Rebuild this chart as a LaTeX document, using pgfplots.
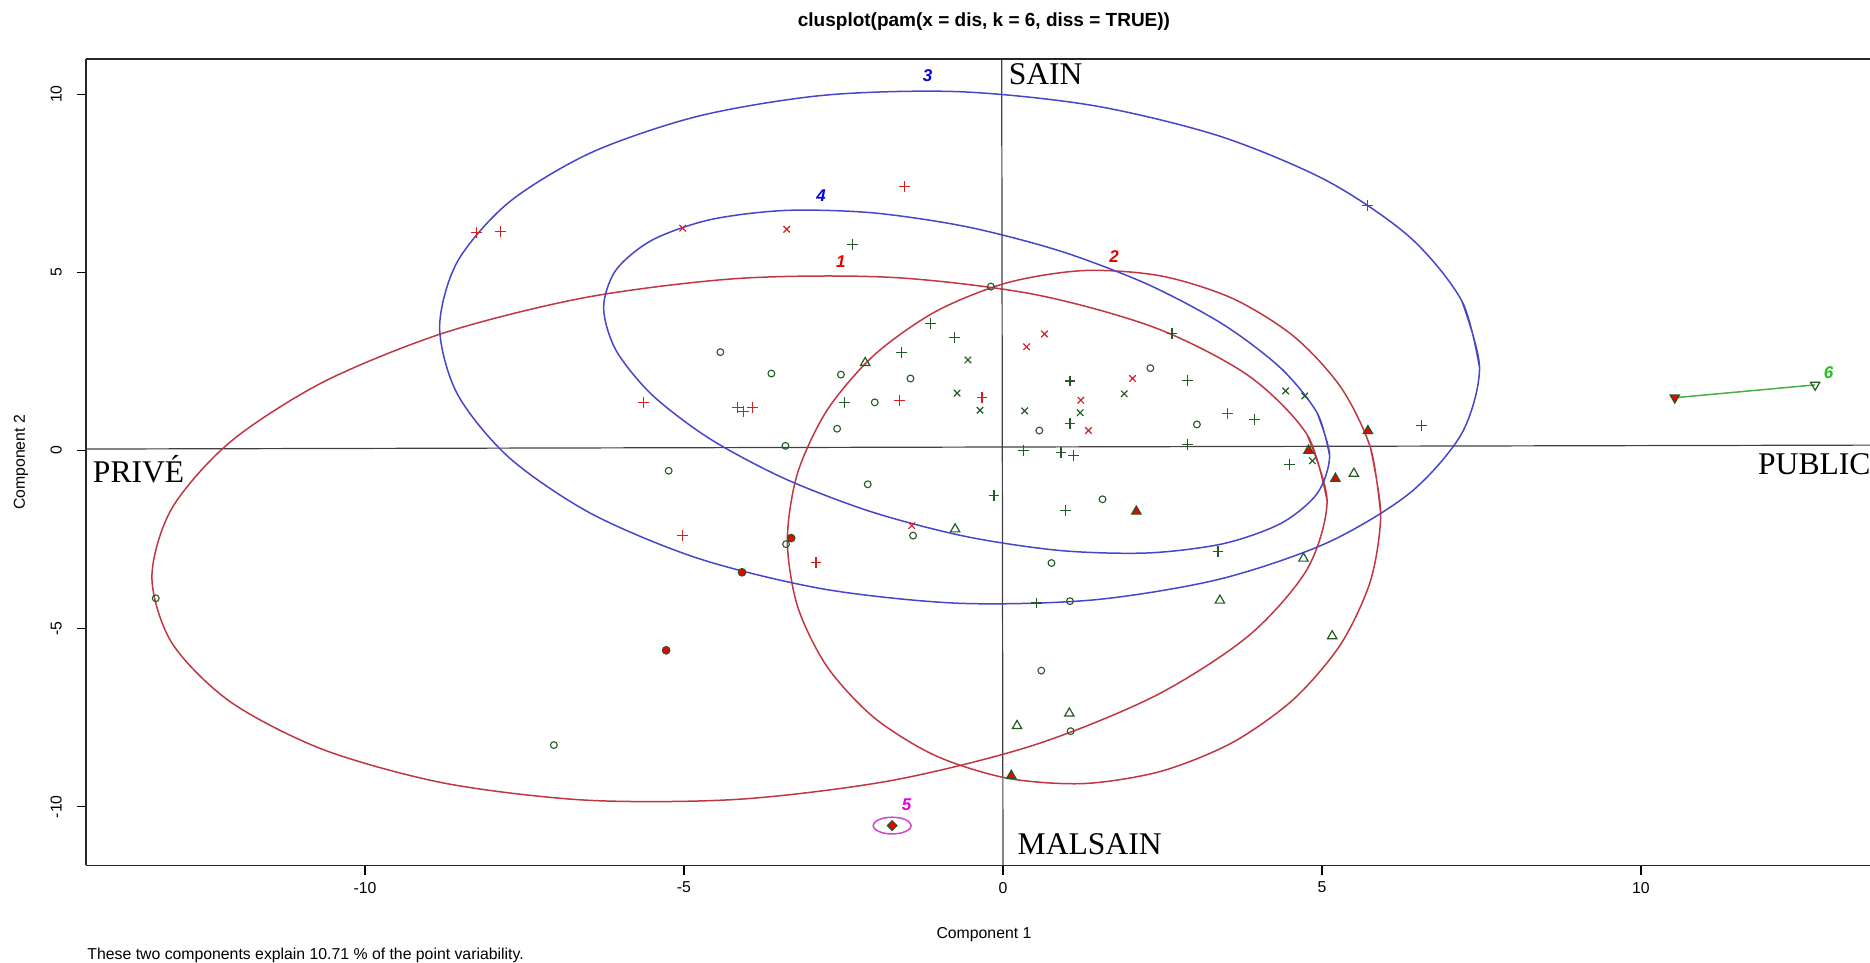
\documentclass[border=0pt]{standalone}
\usepackage{pgfplots}
\pgfplotsset{compat=1.18}
\usepackage{fontspec}
\setmainfont{Liberation Sans}
\newfontfamily\timesfont{Liberation Serif}
\definecolor{dkgreen}{RGB}{35,90,35}
\definecolor{ptred}{RGB}{215,30,30}
\definecolor{fillred}{RGB}{240,0,0}
\definecolor{ellred}{RGB}{190,55,65}
\definecolor{ellblue}{RGB}{70,70,200}
\definecolor{ellmag}{RGB}{205,70,205}
\definecolor{ellgreen}{RGB}{70,175,70}
\definecolor{labred}{RGB}{230,0,0}
\definecolor{labblue}{RGB}{0,0,230}
\definecolor{labmag}{RGB}{225,0,225}
\definecolor{labgreen}{RGB}{30,195,30}
\pgfplotsset{
  ell/.style={smooth, mark=none, line width=0.75pt},
  gcirc/.style={only marks, mark=o, mark size=1.7pt, color=dkgreen, mark options={line width=0.55pt}},
  rcirc/.style={only marks, mark=*, mark size=1.9pt, color=dkgreen, mark options={draw=dkgreen, fill=fillred, line width=0.55pt}},
  gtri/.style={only marks, mark=triangle, mark size=2.7pt, color=dkgreen, mark options={line width=0.6pt}},
  rtri/.style={only marks, mark=triangle*, mark size=2.7pt, color=dkgreen, mark options={draw=dkgreen, fill=fillred, line width=0.6pt}},
  gplus/.style={only marks, mark=+, mark size=2.7pt, color=dkgreen, mark options={line width=0.6pt}},
  rplus/.style={only marks, mark=+, mark size=2.7pt, color=ptred, mark options={line width=0.6pt}},
  gcross/.style={only marks, mark=x, mark size=2.3pt, color=dkgreen, mark options={line width=0.6pt}},
  rcross/.style={only marks, mark=x, mark size=2.3pt, color=ptred, mark options={line width=0.6pt}},
}
\tikzset{clab/.style={font=\fontsize{8.5}{10}\selectfont\bfseries\itshape, inner sep=0pt, anchor=center}}
\begin{document}
\begin{tikzpicture}
\path[use as bounding box] (0,0) rectangle (935pt,481.5pt);
\begin{axis}[
  at={(43.1pt,48.75pt)}, anchor=south west,
  scale only axis, width=891.9pt, height=403.1pt,
  xmin=-14.37, xmax=13.59, ymin=-11.65, ymax=10.98,
  axis x line*=box, axis y line*=left,
  x axis line style={-}, y axis line style={-},
  axis line style={black!85, line width=0.8pt},
  xtick={-10,-5,0,5,10}, xticklabels={-10,-5,0,5,10},
  ytick={-10,-5,0,5,10}, yticklabels={-10,-5,0,5,10},
  xtick pos=bottom, ytick pos=left,
  tick align=outside, major tick length=4.75pt,
  tick style={black, line width=0.6pt},
  ticklabel style={font=\fontsize{7.9}{9}\selectfont, inner sep=0pt},
  xticklabel style={anchor=north},
  yticklabel style={rotate=90, anchor=south},
  xticklabel shift=3.3pt, yticklabel shift=7.3pt,
  clip=false,
  title={clusplot(pam(x = dis, k = 6, diss = TRUE))},
  title style={at={(axis description cs:0.5033,1.0469)}, anchor=center, yshift=-6pt, font=\fontsize{9.5}{11}\selectfont\bfseries},
  xlabel={Component 1},
  xlabel style={at={(axis description cs:0.5033,-0.0862)}, anchor=center, font=\fontsize{7.9}{9}\selectfont},
  ylabel={Component 2},
  ylabel style={at={(axis description cs:-0.03655,0.5)}, anchor=center, font=\fontsize{7.9}{9}\selectfont},
]
% reference lines
\addplot[black!75, line width=0.6pt, mark=none] coordinates {(-14.37,0.04) (13.59,0.15)};
\addplot[black!75, line width=0.6pt, mark=none] coordinates {(-0.02,10.98) (0.0,-11.65)};

% ellipse 1
\addplot[ell, ellred] coordinates {
(5.080,-1.410) (4.766,0.446) (3.846,2.102) (2.382,3.446) (0.475,4.386) (-1.746,4.858)
(-4.130,4.830) (-6.514,4.304) (-8.735,3.316) (-10.642,1.932) (-12.106,0.248) (-13.026,-1.622)
(-13.340,-3.550) (-13.026,-5.406) (-12.106,-7.062) (-10.642,-8.406) (-8.735,-9.346) (-6.514,-9.818)
(-4.130,-9.790) (-1.746,-9.264) (0.475,-8.276) (2.382,-6.892) (3.846,-5.208) (4.766,-3.338)
(5.080,-1.410) (4.766,0.446)};
% ellipse 2
\addplot[ell, ellred] coordinates {
(5.920,-1.780) (5.761,0.070) (5.297,1.770) (4.558,3.203) (3.595,4.270) (2.473,4.900)
(1.270,5.050) (0.067,4.708) (-1.055,3.900) (-2.018,2.679) (-2.757,1.130) (-3.221,-0.644)
(-3.380,-2.520) (-3.221,-4.370) (-2.757,-6.070) (-2.018,-7.503) (-1.055,-8.570) (0.067,-9.200)
(1.270,-9.350) (2.473,-9.008) (3.595,-8.200) (4.558,-6.979) (5.297,-5.430) (5.761,-3.656)
(5.920,-1.780) (5.761,0.070)};
% ellipse 3
\addplot[ell, ellblue] coordinates {
(7.470,2.320) (7.192,4.197) (6.378,5.986) (5.083,7.564) (3.395,8.823) (1.429,9.677)
(-0.680,10.070) (-2.789,9.973) (-4.755,9.393) (-6.443,8.370) (-7.738,6.974) (-8.552,5.299)
(-8.830,3.460) (-8.552,1.583) (-7.738,-0.206) (-6.443,-1.784) (-4.755,-3.043) (-2.789,-3.897)
(-0.680,-4.290) (1.429,-4.193) (3.395,-3.613) (5.083,-2.590) (6.378,-1.194) (7.192,0.481)
(7.470,2.320) (7.192,4.197)};
% ellipse 4
\addplot[ell, ellblue] coordinates {
(5.120,-0.150) (4.926,1.047) (4.358,2.304) (3.453,3.535) (2.275,4.657) (0.903,5.594)
(-0.570,6.280) (-2.043,6.670) (-3.415,6.737) (-4.593,6.477) (-5.498,5.906) (-6.066,5.065)
(-6.260,4.010) (-6.066,2.813) (-5.498,1.556) (-4.593,0.325) (-3.415,-0.797) (-2.043,-1.734)
(-0.570,-2.420) (0.903,-2.810) (2.275,-2.877) (3.453,-2.617) (4.358,-2.046) (4.926,-1.205)
(5.120,-0.150) (4.926,1.047)};
% ellipse 5
\addplot[ell, ellmag] coordinates {
(-1.439,-10.530) (-1.479,-10.4125) (-1.588,-10.3265) (-1.737,-10.295) (-1.886,-10.3265) (-1.995,-10.4125)
(-2.035,-10.530) (-1.995,-10.6475) (-1.886,-10.7335) (-1.737,-10.765) (-1.588,-10.7335) (-1.479,-10.6475)
(-1.439,-10.530) (-1.479,-10.4125)};
% cluster 6 segment
\addplot[ellgreen, line width=0.75pt, mark=none] coordinates {(10.53,1.48) (12.73,1.84)};

% points
\addplot[gcirc] coordinates {
(-0.19,4.60) (-4.43,2.76) (-3.63,2.16) (-2.54,2.13) (-1.45,2.02) (2.31,2.31) (0.57,0.56)
(-2.01,1.35) (-2.60,0.61) (-3.41,0.13) (-5.24,-0.57) (-2.12,-0.95) (3.04,0.73) (1.56,-1.37)
(-3.40,-2.63) (-1.41,-2.39) (0.76,-3.16) (1.05,-4.23) (0.60,-6.18) (1.06,-7.88) (-13.28,-4.15) (-7.04,-8.27)};
\addplot[rcirc] coordinates {(-3.32,-2.46) (-4.09,-3.42) (-5.28,-5.61)};
\addplot[gtri] coordinates {
(-2.16,2.46) (5.50,-0.65) (-0.75,-2.21) (4.71,-3.03) (3.40,-4.21) (5.16,-5.21) (1.04,-7.38) (0.22,-7.73)};
\addplot[rtri] coordinates {(5.72,0.55) (4.79,0.00) (5.21,-0.79) (2.09,-1.71) (0.13,-9.13)};
\addplot[gplus] coordinates {
(-2.36,5.78) (-1.13,3.57) (-0.76,3.18) (-1.59,2.75) (2.65,3.29) (1.05,1.95) (2.89,1.97)
(1.05,0.75) (-2.49,1.35) (3.94,0.87) (2.89,0.17) (0.32,-0.01) (0.91,-0.06) (1.10,-0.15)
(4.49,-0.39) (-0.14,-1.27) (0.98,-1.69) (3.37,-2.84) (0.53,-4.28) (6.56,0.69)};
\addplot[rplus] coordinates {
(-1.55,7.40) (-8.25,6.12) (-7.88,6.15) (5.71,6.87) (-5.63,1.35) (-4.16,1.20) (-4.07,1.09)
(-3.92,1.20) (-0.33,1.48) (-1.62,1.41) (3.52,1.04) (-5.02,-2.39) (-2.93,-3.14)};
\addplot[gcross] coordinates {
(-0.55,2.54) (1.90,1.59) (1.21,1.06) (0.34,1.11) (-0.36,1.13) (-0.72,1.61) (4.43,1.67) (4.73,1.53) (4.85,-0.29)};
\addplot[rcross] coordinates {
(-5.02,6.24) (-3.39,6.21) (0.65,3.27) (0.37,2.91) (2.03,2.02) (1.22,1.41) (1.34,0.56) (-1.43,-2.11)};
\addplot[only marks, mark=square*, mark size=1.7pt, color=dkgreen, mark options={rotate=45, draw=dkgreen, fill=fillred, line width=0.55pt}] coordinates {(-1.737,-10.53)};
\addplot[only marks, mark=triangle*, mark size=2.7pt, color=dkgreen, mark options={rotate=180, draw=dkgreen, fill=fillred, line width=0.6pt}] coordinates {(10.53,1.48)};
\addplot[only marks, mark=triangle, mark size=2.7pt, color=dkgreen, mark options={rotate=180, line width=0.6pt}] coordinates {(12.73,1.84)};

% cluster labels
\node[clab, text=labred] at (axis cs:-2.54,5.30) {1};
\node[clab, text=labred] at (axis cs:1.74,5.44) {2};
\node[clab, text=labblue] at (axis cs:-1.18,10.51) {3};
\node[clab, text=labblue] at (axis cs:-2.85,7.14) {4};
\node[clab, text=labmag] at (axis cs:-1.51,-9.95) {5};
\node[clab, text=labgreen] at (axis cs:12.94,2.18) {6};

% quadrant words
\node[anchor=base west, inner sep=0pt, font=\timesfont\fontsize{15.8}{18}\selectfont] at (axis cs:0.085,10.26) {SAIN};
\node[anchor=base west, inner sep=0pt, font=\timesfont\fontsize{15.8}{18}\selectfont] at (axis cs:0.224,-11.33) {MALSAIN};
\node[anchor=base west, inner sep=0pt, font=\timesfont\fontsize{15.8}{18}\selectfont] at (axis cs:-14.27,-0.893) {PRIVÉ};
\node[anchor=base west, inner sep=0pt, font=\timesfont\fontsize{15.8}{18}\selectfont] at (axis cs:11.83,-0.688) {PUBLIC};

% subtitle
\node[anchor=west, inner sep=0pt, font=\fontsize{7.9}{9}\selectfont] at (axis description cs:0.0005,-0.111) {These two components explain 10.71 \% of the point variability.};
\end{axis}
\end{tikzpicture}
\end{document}
